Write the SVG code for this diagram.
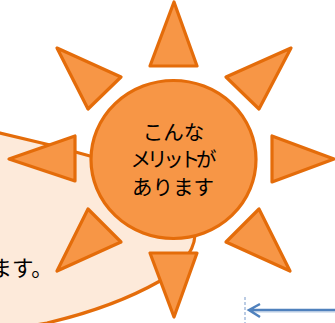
<svg xmlns="http://www.w3.org/2000/svg" width="335" height="323" viewBox="0 0 335 323">
<style>
.ray{fill:#f79646;stroke:#e46c0a;stroke-width:3.2;stroke-linejoin:round}
.t{font-family:"Noto Sans CJK JP",sans-serif;font-size:20.5px;fill:#000;text-anchor:middle}
</style>
<g id="bubble"><path d="M-20 128L0 133L50 145L90 156C130 167 165 180 185 200C193 210 197 224 195 235C194 255 175 272 160 281C130 298 90 313 47 323L-20 335Z" fill="#fdeada" stroke="#e46c0a" stroke-width="3.200"/>
<text x="-9.500" y="276" style="font-family:'Noto Sans CJK JP',sans-serif;font-size:21.5px">ます。</text></g>
<g id="sun">
<path class="ray" d="M174 2L197 66H150Z"/>
<path class="ray" d="M57 48L121 77L88 109Z"/>
<path class="ray" d="M291 48L226 77L259 109Z"/>
<path class="ray" d="M9 159L75 136V181Z"/>
<path class="ray" d="M334 159L272 136V182Z"/>
<path class="ray" d="M57 271L88 209L121 242Z"/>
<path class="ray" d="M290 271L259 209L226 242Z"/>
<path class="ray" d="M174 317L150 253H197Z"/>
<ellipse cx="173.500" cy="159.500" rx="82.500" ry="79" fill="#f79646" stroke="#e46c0a" stroke-width="3.200"/>
<text class="t" x="173.500" y="140">こんな</text>
<text class="t" x="173.500" y="167" textLength="86" lengthAdjust="spacing">メリットが</text>
<text class="t" x="173" y="195">あります</text>
</g>
<g id="connectors">
<line x1="245" y1="297" x2="245" y2="323" stroke="#a5bcdc" stroke-width="1.5" stroke-dasharray="3 2"/>
<path d="M335 312H252" fill="none" stroke="#dbe5f1" stroke-width="2"/>
<path d="M335 310H249M260 304L249 310L260 317" fill="none" stroke="#4f81bd" stroke-width="2.5"/>
</g>
</svg>
